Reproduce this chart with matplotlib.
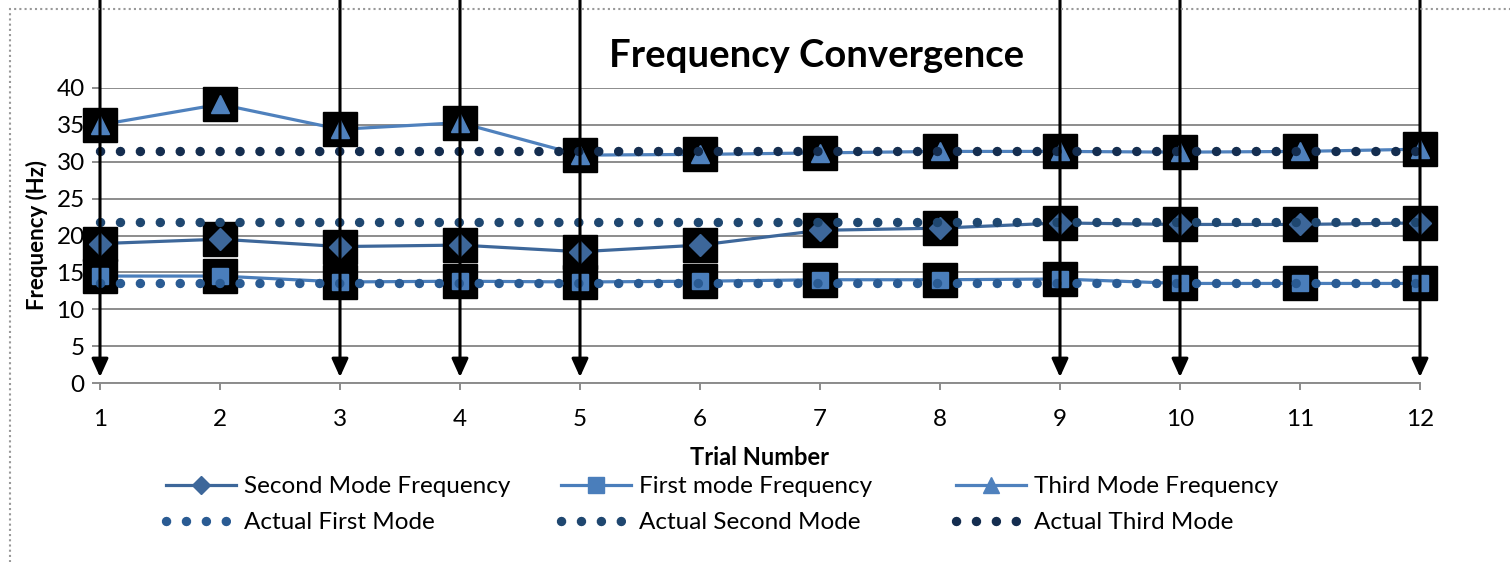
import numpy as np
import matplotlib.pyplot as plt
from matplotlib.lines import Line2D
from matplotlib.patches import Rectangle

plt.rcParams['font.family'] = ['Lato', 'DejaVu Sans']

trials = [1, 2, 3, 4, 5, 6, 7, 8, 9, 10, 11, 12]
second_mode = [18.9, 19.5, 18.5, 18.7, 17.8, 18.7, 20.7, 21.0, 21.7, 21.5, 21.5, 21.7]
first_mode = [14.5, 14.5, 13.7, 13.8, 13.7, 13.8, 14.0, 14.0, 14.1, 13.5, 13.5, 13.5]
third_mode = [35.0, 37.8, 34.4, 35.3, 30.9, 31.0, 31.2, 31.4, 31.4, 31.3, 31.4, 31.7]
actual_first = 13.6
actual_second = 21.8
actual_third = 31.5
arrow_trials = [1, 3, 4, 5, 9, 10, 12]

c_second = '#3D679A'
c_first = '#4A7EBB'
c_third = '#4F81BD'
c_act1 = '#2A5B93'
c_act2 = '#1F4770'
c_act3 = '#142D4F'
grid_c = '#8C8C8C'

fig = plt.figure(figsize=(15.1, 5.62), dpi=100)
ax = fig.add_axes([100 / 1510, 1 - 383 / 562, 1320 / 1510, 295 / 562])

x = np.array(trials)
dot_lw = 6.8
dot_style = (0, (0.01, 2.1))

series = [
    (second_mode, c_second, 'D', 11, 'Second Mode Frequency'),
    (first_mode, c_first, 's', 12, 'First mode Frequency'),
    (third_mode, c_third, '^', 13, 'Third Mode Frequency'),
]
for vals, col, mk, ms, name in series:
    ax.plot(x, vals, color=col, lw=2.3, zorder=3, clip_on=False)
    ax.plot(x, vals, ls='none', marker='s', ms=24.5, color='black', zorder=4,
            clip_on=False)
    ax.plot(x, vals, ls='none', marker=mk, ms=ms, color=col, mec=col, zorder=5,
            clip_on=False)

for val, col in [(actual_first, c_act1), (actual_second, c_act2), (actual_third, c_act3)]:
    ax.plot(x, np.full(len(x), val), color=col, lw=dot_lw, ls=dot_style,
            dash_capstyle='round', zorder=6, clip_on=False)

# arrows from above the figure down to the axis
for t in arrow_trials:
    ax.annotate('', xy=(t, 0.8), xycoords='data',
                xytext=(t, 1.35), textcoords=('data', 'axes fraction'),
                arrowprops=dict(arrowstyle='-|>,head_length=0.55,head_width=0.25',
                                mutation_scale=20, lw=2.2, color='black',
                                shrinkA=0, shrinkB=0),
                annotation_clip=False, zorder=7)

ax.set_xlim(1, 12)
ax.set_ylim(0, 40)
ax.set_xticks(trials)
ax.set_yticks(range(0, 41, 5))
ax.yaxis.grid(True, color=grid_c, lw=1.4)
ax.set_axisbelow(True)
for s in ['top', 'right', 'left']:
    ax.spines[s].set_visible(False)
ax.spines['bottom'].set_color(grid_c)
ax.spines['bottom'].set_linewidth(1.4)
ax.tick_params(axis='y', length=6, width=1.4, color=grid_c, labelsize=17.5, pad=5)
ax.tick_params(axis='x', length=5, width=1.4, color=grid_c, labelsize=17.5, pad=14)

ax.set_xlabel('Trial Number', fontsize=17, fontweight='bold', labelpad=11)
ax.set_ylabel('Frequency (Hz)', fontsize=16, fontweight='bold', labelpad=6)
fig.text(817 / 1510, 1 - 56 / 562, 'Frequency Convergence', fontsize=27.5,
         fontweight='bold', ha='center', va='center')

# legend: three equal-width columns, one legend per column
measured = [
    (Line2D([], [], color=c_second, lw=2.3, marker='D', ms=9), 'Second Mode Frequency'),
    (Line2D([], [], color=c_first, lw=2.3, marker='s', ms=11), 'First mode Frequency'),
    (Line2D([], [], color=c_third, lw=2.3, marker='^', ms=11), 'Third Mode Frequency'),
]
actual = [
    (Line2D([], [], color=c_act1, lw=dot_lw, ls=dot_style, dash_capstyle='round'), 'Actual First Mode'),
    (Line2D([], [], color=c_act2, lw=dot_lw, ls=dot_style, dash_capstyle='round'), 'Actual Second Mode'),
    (Line2D([], [], color=c_act3, lw=dot_lw, ls=dot_style, dash_capstyle='round'), 'Actual Third Mode'),
]
col_x = [166, 561, 956]
for cx, (h1, l1), (h2, l2) in zip(col_x, measured, actual):
    leg = fig.legend([h1, h2], [l1, l2], loc='upper left',
                     bbox_to_anchor=(cx / 1510, 1 - 476 / 562), frameon=False,
                     borderpad=0, borderaxespad=0,
                     fontsize=17.5, handlelength=2.9, handletextpad=0.3,
                     labelspacing=0.62)

fig.patches.append(Rectangle((10 / 1510, -0.1), 1.2, 1 - 9 / 562 + 0.1,
                             transform=fig.transFigure, fill=False,
                             ec='#999999', lw=1.5, ls=(0, (1, 1.5))))

fig.savefig('out.png', dpi=100)
